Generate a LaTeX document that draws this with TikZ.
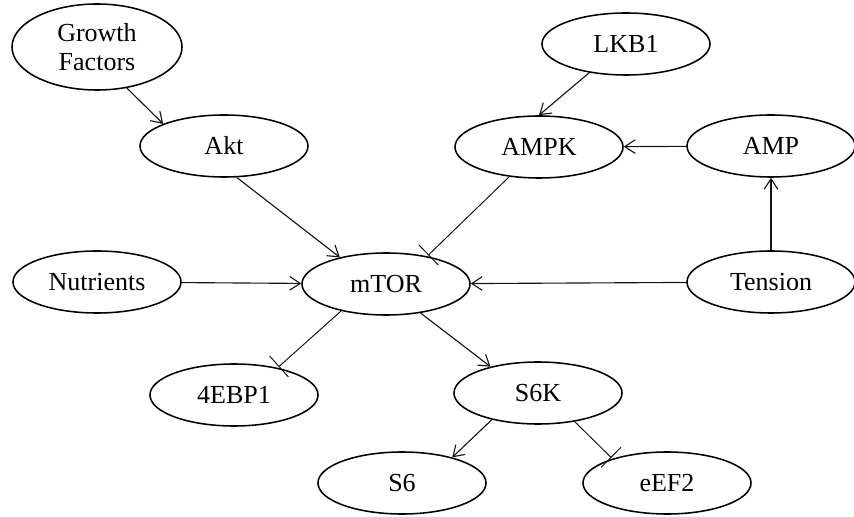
\documentclass[tikz,border=0pt]{standalone}
\usepackage{fontspec}
\setmainfont{Liberation Serif}
\usepackage{tikz}
\usetikzlibrary{shapes.geometric, arrows.meta, calc}
\usepackage{xcolor}
\definecolor{edge}{RGB}{20,20,20}

\begin{document}
\begin{tikzpicture}[
      x=0.025cm, y=-0.025cm,
      prot/.style={ellipse, draw=black, line width=1.1pt, inner sep=0pt,
                   minimum width=4.2cm, minimum height=1.55cm,
                   font=\fontsize{18.5}{21}\selectfont, align=center},
      act/.style={-{Straight Barb[length=2.6mm, width=3.4mm, line width=0.8pt]}, line width=0.8pt, draw=edge},
      inh/.style={-{Bar[width=20pt]}, line width=0.7pt, draw=edge, shorten >=1pt}
    ]
    \useasboundingbox (0,0) rectangle (854,517);
    \node[prot, minimum width=4.25cm, minimum height=2.15cm] (gf) at (97,47) {Growth\\Factors};
    \node[prot] (akt)  at (224,146) {Akt};
    \node[prot] (lkb)  at (626,44)  {LKB1};
    \node[prot] (ampk) at (539,147) {AMPK};
    \node[prot] (amp)  at (771,146) {AMP};
    \node[prot] (nutr) at (97,282)  {Nutrients};
    \node[prot] (mtor) at (386,284) {mTOR};
    \node[prot] (tens) at (771,282) {Tension};
    \node[prot] (ebp)  at (234,395) {4EBP1};
    \node[prot] (s6k)  at (538,393) {S6K};
    \node[prot] (s6)   at (402,483) {S6};
    \node[prot] (eef)  at (667,483) {eEF2};
    \draw[act] (gf.-54) -- (akt.160);
    \draw[act] (akt.-68) -- (mtor.150);
    \draw[act] (lkb.-142) -- (ampk.90);
    \draw[act] (amp) -- (ampk);
    \draw[inh] (ampk.-135) -- (mtor.34);
    \draw[act] (nutr) -- (mtor);
    \draw[act] (tens) -- (mtor);
    \draw[act] (tens) -- (amp);
    \draw[inh] (mtor.-149) -- (ebp.32);
    \draw[act] (mtor.-40) -- (s6k.151);
    \draw[act] (s6k.-150) -- (s6.27);
    \draw[inh] (s6k.-38) -- (eef.156);
  \end{tikzpicture}
\end{document}
